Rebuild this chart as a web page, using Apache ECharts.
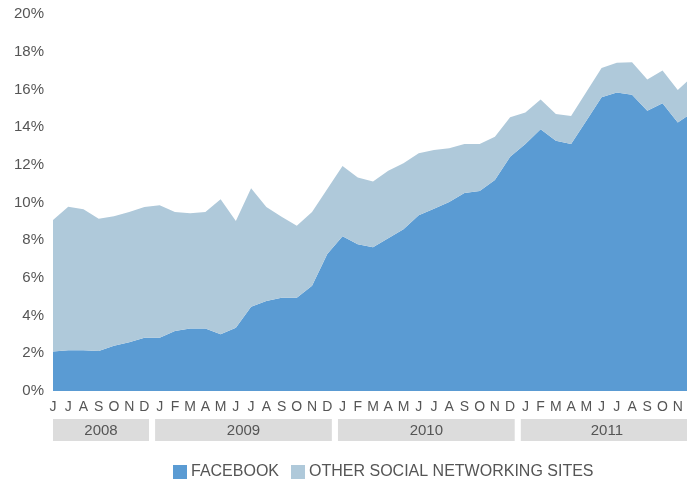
<!DOCTYPE html>
<html>
<head>
<meta charset="utf-8">
<style>
  html, body { margin: 0; padding: 0; background: #fff; }
  #chart { width: 687px; height: 480px; }
</style>
<script src="https://cdn.jsdelivr.net/npm/echarts@6/dist/echarts.min.js"></script>
</head>
<body>
<div id="chart"></div>
<script>
// ---- data ----
const monthLabels = [
    "J", "J", "A", "S", "O", "N", "D",
    "J", "F", "M", "A", "M", "J", "J", "A", "S", "O", "N", "D",
    "J", "F", "M", "A", "M", "J", "J", "A", "S", "O", "N", "D",
    "J", "F", "M", "A", "M", "J", "J", "A", "S", "O", "N", "D"
];
const years = ["2008", "2009", "2010", "2011"];
const monthsInYear = [7, 12, 12, 12];

const facebook = [
    2.09, 2.16, 2.16, 2.12, 2.40, 2.58, 2.83,
    2.83, 3.18, 3.31, 3.31, 3.01, 3.36, 4.47, 4.77, 4.95, 4.95, 5.59, 7.27,
    8.21, 7.78, 7.62, 8.10, 8.58, 9.32, 9.67, 10.03, 10.50, 10.61, 11.19, 12.43,
    13.10, 13.88, 13.28, 13.10, 14.34, 15.58, 15.83, 15.72, 14.87, 15.26, 14.24, 14.80
];
const otherSites = [
    6.98, 7.62, 7.48, 7.02, 6.87, 6.92, 6.93,
    7.02, 6.32, 6.12, 6.19, 7.16, 5.66, 6.28, 4.99, 4.30, 3.82, 3.91, 3.45,
    3.73, 3.54, 3.50, 3.59, 3.50, 3.29, 3.12, 2.85, 2.60, 2.49, 2.30, 2.09,
    1.68, 1.59, 1.41, 1.49, 1.52, 1.56, 1.59, 1.72, 1.65, 1.74, 1.73, 1.91
];
const yTicks = [0, 2, 4, 6, 8, 10, 12, 14, 16, 18, 20];

const COLORS = { fb: "#5a9bd3", other: "#afc9da", band: "#dcdcdc", text: "#555" };
const FONT = "'Liberation Sans', Arial, sans-serif";

// year band rows: [startIndex, endIndex, label]
const yearRows = [];
let idx = 0;
years.forEach((y, i) => {
    yearRows.push([idx, idx + monthsInYear[i] - 1, y]);
    idx += monthsInYear[i];
});

const chart = echarts.init(document.getElementById("chart"), null, { renderer: "canvas" });

chart.setOption({
    animation: false,
    textStyle: { fontFamily: FONT },
    grid: [
        { left: 53, right: -6, top: 14, height: 377, outerBoundsMode: "none", containLabel: false },
        { left: 53, right: -6, top: 419, height: 22, outerBoundsMode: "none", containLabel: false }
    ],
    legend: {
        top: 464,
        left: 173,
        itemWidth: 14,
        itemHeight: 14,
        itemGap: 12,
        icon: "rect",
        padding: 0,
        textStyle: { color: COLORS.text, fontSize: 16, fontFamily: FONT, padding: [0, 0, 0, -1] },
        data: ["FACEBOOK", "OTHER SOCIAL NETWORKING SITES"]
    },
    xAxis: [
        {
            gridIndex: 0,
            type: "category",
            boundaryGap: false,
            data: monthLabels,
            axisLine: { show: false },
            axisTick: { show: false },
            axisLabel: {
                interval: 0, showMaxLabel: true, hideOverlap: false,
                color: COLORS.text, fontSize: 14, margin: 9, fontFamily: FONT
            }
        },
        { gridIndex: 1, type: "value", min: 0, max: monthLabels.length - 1, show: false }
    ],
    yAxis: [
        {
            gridIndex: 0,
            type: "value",
            min: yTicks[0],
            max: yTicks[yTicks.length - 1],
            interval: 2,
            splitLine: { show: false },
            axisLine: { show: false },
            axisTick: { show: false },
            axisLabel: { formatter: "{value}%", color: COLORS.text, fontSize: 15, margin: 9, fontFamily: FONT }
        },
        { gridIndex: 1, type: "value", min: 0, max: 1, show: false }
    ],
    series: [
        {
            name: "FACEBOOK",
            type: "line",
            stack: "share",
            data: facebook,
            symbol: "none",
            lineStyle: { width: 0 },
            itemStyle: { color: COLORS.fb },
            areaStyle: { color: COLORS.fb, opacity: 1 }
        },
        {
            name: "OTHER SOCIAL NETWORKING SITES",
            type: "line",
            stack: "share",
            data: otherSites,
            symbol: "none",
            lineStyle: { width: 0 },
            itemStyle: { color: COLORS.other },
            areaStyle: { color: COLORS.other, opacity: 1 }
        },
        {
            type: "custom",
            xAxisIndex: 1,
            yAxisIndex: 1,
            silent: true,
            data: yearRows,
            renderItem(params, api) {
                const gap = 0.2;
                const p0 = api.coord([api.value(0) - 0.5 + gap, 1]);
                const p1 = api.coord([api.value(1) + 0.5 - gap, 0]);
                const cs = params.coordSys;
                const rect = echarts.graphic.clipRectByRect(
                    { x: p0[0], y: p0[1], width: p1[0] - p0[0], height: p1[1] - p0[1] },
                    { x: cs.x, y: cs.y, width: cs.width, height: cs.height }
                );
                if (!rect) return;
                return {
                    type: "group",
                    children: [
                        { type: "rect", shape: rect, style: { fill: COLORS.band } },
                        {
                            type: "text",
                            x: rect.x + rect.width / 2,
                            y: rect.y + rect.height / 2 + 1,
                            style: {
                                text: api.value(2),
                                fill: COLORS.text,
                                font: "15px " + FONT,
                                align: "center",
                                verticalAlign: "middle"
                            }
                        }
                    ]
                };
            }
        }
    ]
});
</script>
</body>
</html>
